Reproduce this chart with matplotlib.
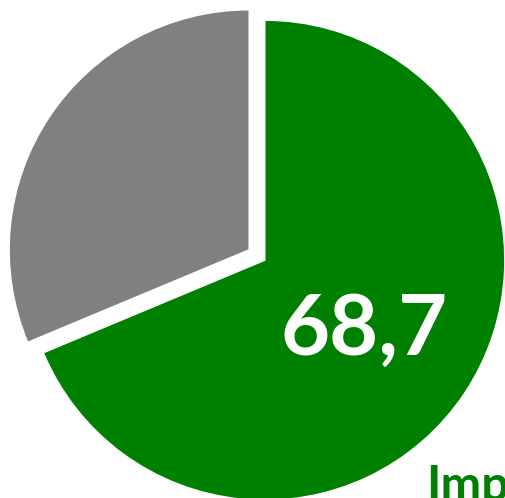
import matplotlib
matplotlib.use("Agg")
import matplotlib.pyplot as plt

# data
labels = ["Imp", "Other"]
values = [68.7, 31.3]
colors = ["#008000", "#808080"]
value_label = "68,7"
legend_text = "Imp"

W, H = 505, 498
fig = plt.figure(figsize=(W / 100, H / 100), dpi=100)
ax = fig.add_axes([0, 0, 1, 1])

# pie (green from 12 o'clock, clockwise); explode is in data units here
ax.pie(values, colors=colors, startangle=90, counterclock=False,
       center=(257, 243), radius=240, explode=[9.4, 9.4],
       wedgeprops=dict(edgecolor="white", linewidth=1), frame=True)
ax.set_xlim(0, W)
ax.set_ylim(0, H)
ax.set_aspect("equal")
ax.axis("off")

# value label
ax.text(364, 168, value_label, color="white", fontsize=61, fontweight="bold",
        family="Lato", ha="center", va="center")

# series name, cut off at the bottom right like the original
ax.text(426, -3, legend_text, color=colors[0], fontsize=35, fontweight="bold",
        family="Lato", ha="left", va="baseline", clip_on=False)

fig.savefig("out.png", dpi=100)
